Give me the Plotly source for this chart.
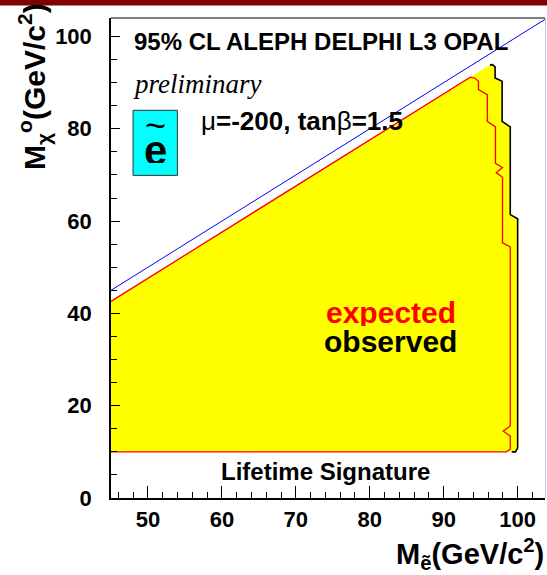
import plotly.graph_objects as go

# Observed excluded region (selectron mass vs neutralino mass), GeV/c^2
obs_x = [45, 45, 96.25, 96.6, 96.95, 96.95, 97.9, 97.9, 99.0, 99.0, 100.0, 100.0, 99.7, 45]
obs_y = [10, 42.6, 93.85, 93.9, 93.4, 91.0, 90.3, 81.6, 80.4, 61.4, 60.5, 10.8, 10.0, 10]

# Right-hand edge of the observed region, drawn as a black outline
edge_x = [96.25, 96.6, 96.95, 96.95, 97.9, 97.9, 99.0, 99.0, 100.0, 100.0, 99.7, 99.2]
edge_y = [93.85, 93.9, 93.4, 91.0, 90.3, 81.6, 80.4, 61.4, 60.5, 10.8, 10.0, 10.0]

# Expected exclusion contour
exp_x = [45, 93.6, 94.2, 94.7, 94.7, 95.9, 95.9, 97.0, 97.0, 97.95, 97.1, 97.95,
         97.95, 99.0, 99.0, 98.05, 99.0, 99.0, 98.5, 45]
exp_y = [42.6, 91.2, 91.0, 90.3, 88.5, 87.4, 81.6, 80.4, 72.5, 71.6, 70.5, 69.5,
         55.3, 54.4, 15.6, 14.5, 13.4, 10.6, 10.0, 10.0]

# Kinematic limit M_chi = M_selectron
kin_x = [45, 104]
kin_y = [45, 104]

x_range = [45, 103.7]
y_range = [0, 104]
x_ticks = [50, 60, 70, 80, 90, 100]
y_ticks = [0, 20, 40, 60, 80, 100]

FONT = "Liberation Sans"

fig = go.Figure()
fig.add_trace(go.Scatter(x=obs_x, y=obs_y, mode="lines", fill="toself",
                         fillcolor="#FFFF00", line=dict(width=0), hoverinfo="skip"))
fig.add_trace(go.Scatter(x=edge_x, y=edge_y, mode="lines",
                         line=dict(color="black", width=1.6), hoverinfo="skip"))
fig.add_trace(go.Scatter(x=exp_x, y=exp_y, mode="lines",
                         line=dict(color="#FF0000", width=1.3), hoverinfo="skip"))
fig.add_trace(go.Scatter(x=kin_x, y=kin_y, mode="lines",
                         line=dict(color="#0000FF", width=1), hoverinfo="skip"))

W, H = 547, 575
L, R, T, B = 111, 2, 18, 77
pw, ph = W - L - R, H - T - B


def px(x):
    return (x - L) / pw


def py(y):
    return (H - B - y) / ph


shapes = [
    # dark banner across the top of the page
    dict(type="rect", xref="paper", yref="paper", x0=px(0), x1=px(W), y0=py(5.5), y1=py(0),
         fillcolor="#800000", line=dict(width=0), layer="above"),
    # top frame
    dict(type="line", xref="paper", yref="paper", x0=0, x1=1, y0=1, y1=1,
         line=dict(color="black", width=1.2)),
    # right frame
    dict(type="line", xref="paper", yref="paper", x0=px(545.5), x1=px(545.5), y0=0, y1=1,
         line=dict(color="#c8c8e8", width=1)),
    # selectron badge
    dict(type="rect", xref="x", yref="y", x0=47.98, x1=53.98, y0=69.9, y1=84.0,
         fillcolor="#00FFFF", line=dict(color="#333333", width=1)),
]

ann = [
    dict(x=47.9, y=98.9, xref="x", yref="y", text="95% CL ALEPH DELPHI L3 OPAL",
         xanchor="left", yanchor="middle", showarrow=False,
         font=dict(family=FONT, size=24, color="black", weight="bold")),
    dict(x=47.7, y=89.6, xref="x", yref="y", text="<i>preliminary</i>",
         xanchor="left", yanchor="middle", showarrow=False,
         font=dict(family="Liberation Serif", size=27, color="black")),
    dict(x=50.98, y=75.4, xref="x", yref="y", text="e", height=26,
         xanchor="center", yanchor="middle", showarrow=False,
         font=dict(family=FONT, size=42, color="black", weight="bold")),
    dict(x=50.98, y=80.9, xref="x", yref="y", text="~", height=12,
         xanchor="center", yanchor="middle", showarrow=False,
         font=dict(family=FONT, size=36, color="black")),
    dict(x=56.9, y=81.6, xref="x", yref="y",
         text="<span style='font-weight:normal'>μ</span>=-200, tan<span style='font-weight:normal'>β</span>=1.5",
         xanchor="left", yanchor="middle", showarrow=False,
         font=dict(family=FONT, size=26, color="black", weight="bold")),
    dict(x=82.85, y=40.2, xref="x", yref="y", text="expected", height=27,
         xanchor="center", yanchor="middle", showarrow=False,
         font=dict(family=FONT, size=30, color="#FF0000", weight="bold")),
    dict(x=82.85, y=34.0, xref="x", yref="y", text="observed", height=27,
         xanchor="center", yanchor="middle", showarrow=False,
         font=dict(family=FONT, size=30, color="black", weight="bold")),
    dict(x=74.0, y=5.8, xref="x", yref="y", text="Lifetime Signature",
         xanchor="center", yanchor="middle", showarrow=False,
         font=dict(family=FONT, size=24, color="black", weight="bold")),
    # axis titles
    dict(x=px(34), y=py(87), xref="paper", yref="paper",
         text="M<sub>χ</sub><sup>o</sup>(GeV/c<sup>2</sup>)", textangle=-90,
         xanchor="center", yanchor="middle", showarrow=False,
         font=dict(family=FONT, size=30, color="black", weight="bold")),
    dict(x=px(546), y=py(554), xref="paper", yref="paper",
         text="M<sub>ẽ</sub>(GeV/c<sup>2</sup>)",
         xanchor="right", yanchor="middle", showarrow=False,
         font=dict(family=FONT, size=29, color="black", weight="bold")),
]

fig.update_layout(
    width=W, height=H,
    margin=dict(l=L, r=R, t=T, b=B, pad=0),
    paper_bgcolor="white", plot_bgcolor="white",
    showlegend=False,
    shapes=shapes, annotations=ann,
    xaxis=dict(range=x_range, tickvals=x_ticks, ticks="inside", ticklen=12, tickwidth=1,
               tickcolor="black", showgrid=False, zeroline=False,
               showline=True, linecolor="black", linewidth=1.5,
               ticklabelstandoff=1,
               tickfont=dict(family=FONT, size=22, color="black", weight="bold"),
               minor=dict(dtick=2, tick0=0, ticks="inside", ticklen=6, tickcolor="black",
                          tickwidth=1, showgrid=False)),
    yaxis=dict(range=y_range, tickvals=y_ticks, ticks="inside", ticklen=9, tickwidth=1,
               tickcolor="black", showgrid=False, zeroline=False,
               showline=True, linecolor="black", linewidth=1.5,
               ticklabelstandoff=13,
               tickfont=dict(family=FONT, size=22, color="black", weight="bold"),
               minor=dict(dtick=5, tick0=0, ticks="inside", ticklen=6, tickcolor="black",
                          tickwidth=1, showgrid=False)),
)

fig.write_html("out.html")
